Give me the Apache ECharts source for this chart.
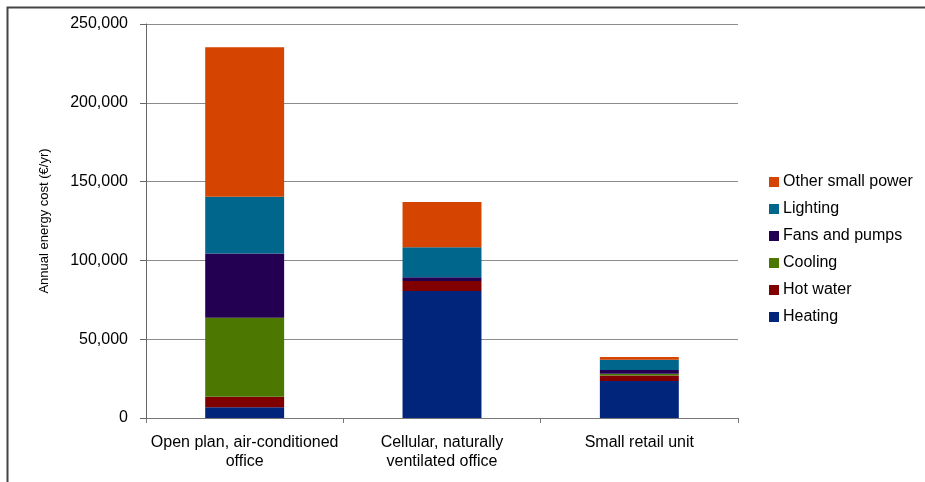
<!DOCTYPE html>
<html>
<head>
<meta charset="utf-8">
<script src="https://cdn.jsdelivr.net/npm/echarts@6/dist/echarts.min.js"></script>
<style>
  html, body { margin: 0; padding: 0; background: #fff; }
  #chart { width: 925px; height: 482px; }
</style>
</head>
<body>
<div id="chart"></div>
<script>
// Building types on the x-axis
const categories = [
  'Open plan, air-conditioned\noffice',
  'Cellular, naturally\nventilated office',
  'Small retail unit'
];

// Annual energy cost by end use (€/yr), stacked bottom to top
const heating    = [6800, 80600, 23500];
const hotWater   = [6700, 6300, 3400];
const cooling    = [50100, 0, 1200];
const fansPumps  = [40700, 2400, 2400];
const lighting   = [36100, 19000, 6500];
const otherPower = [94800, 28800, 1700];

// Y-axis range and step
const yMin = 0;
const yMax = 250000;
const yStep = 50000;

const seriesDefs = [
  { name: 'Heating', data: heating, color: '#00257A' },
  { name: 'Hot water', data: hotWater, color: '#800000' },
  { name: 'Cooling', data: cooling, color: '#4C7700' },
  { name: 'Fans and pumps', data: fansPumps, color: '#230052' },
  { name: 'Lighting', data: lighting, color: '#00668C' },
  { name: 'Other small power', data: otherPower, color: '#D54400' }
];

const font = 'Liberation Sans, Arial, sans-serif';
const chart = echarts.init(document.getElementById('chart'));

chart.setOption({
  animation: false,
  backgroundColor: '#fff',
  textStyle: { fontFamily: font },
  grid: { left: 146, right: 187, top: 24, bottom: 64, containLabel: false },
  legend: {
    orient: 'vertical',
    left: 764,
    top: 169,
    itemWidth: 10,
    itemHeight: 10,
    itemGap: 11,
    icon: 'rect',
    data: seriesDefs.map(s => s.name).reverse(),
    textStyle: { fontFamily: font, fontSize: 16, color: '#000', padding: [0, 0, 0, -1] }
  },
  xAxis: {
    type: 'category',
    data: categories,
    axisLine: { lineStyle: { color: '#777', width: 1 } },
    axisTick: { show: true, length: 5, lineStyle: { color: '#777' } },
    axisLabel: {
      color: '#000',
      fontFamily: font,
      fontSize: 16,
      lineHeight: 19,
      margin: 15,
      interval: 0
    },
    splitLine: { show: false }
  },
  yAxis: {
    type: 'value',
    min: yMin,
    max: yMax,
    interval: yStep,
    name: 'Annual energy cost (€/yr)',
    nameLocation: 'middle',
    nameRotate: 90,
    nameGap: 95,
    nameTextStyle: { color: '#000', fontFamily: font, fontSize: 13 },
    axisLine: { show: true, lineStyle: { color: '#666', width: 1 } },
    axisTick: { show: true, inside: false, length: 6, lineStyle: { color: '#666' } },
    axisLabel: {
      color: '#000',
      fontFamily: font,
      fontSize: 16,
      margin: 18,
      formatter: v => v.toLocaleString('en-US')
    },
    splitLine: { show: true, lineStyle: { color: '#8c8c8c', width: 1 } }
  },
  series: seriesDefs.map(s => ({
    name: s.name,
    type: 'bar',
    stack: 'total',
    barWidth: '40%',
    data: s.data,
    itemStyle: { color: s.color },
    emphasis: { disabled: true }
  })),
  graphic: [
    {
      type: 'rect',
      silent: true,
      shape: { x: 7.5, y: 7.5, width: 1000, height: 1000 },
      style: { fill: 'none', stroke: '#444', lineWidth: 2 }
    }
  ]
});
</script>
</body>
</html>
